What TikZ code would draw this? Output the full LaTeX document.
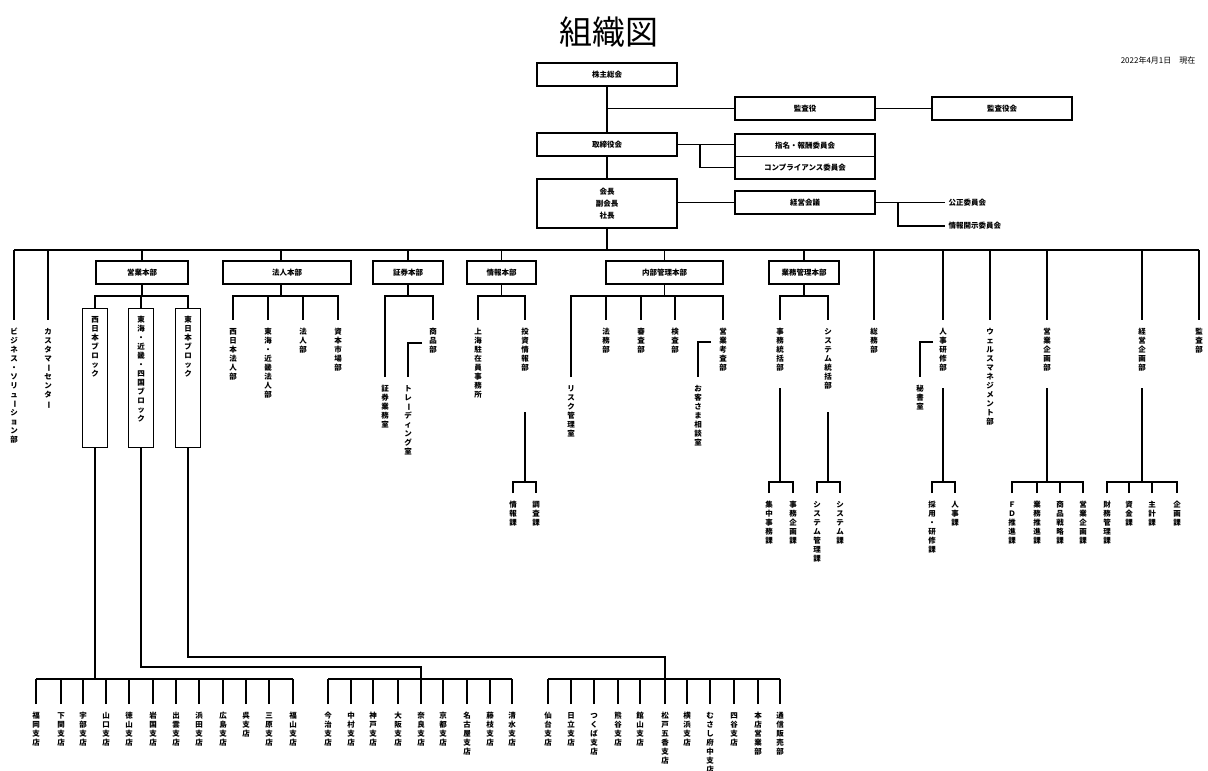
\documentclass[tikz,border=0pt]{standalone}
\usepackage{fontspec}
\setmainfont{Noto Sans CJK JP}
\newcommand\vbar{\rotatebox[origin=c]{-90}{ー}}
\newcommand\vt[1]{\vbox{\offinterlineskip\vtl#1\relax}}
\def\vtl#1{\ifx#1\relax\else\hbox to 9pt{\hss\vrule height 7.5pt depth 1.5pt width 0pt\relax #1\hss}\expandafter\vtl\fi}
\begin{document}
\begin{tikzpicture}[x=1pt,y=-1pt,line width=1.2pt,
 orgbox/.style={draw,line width=1.2pt,inner sep=0pt,minimum height=23pt,font=\fontsize{7.5pt}{9pt}\selectfont\bfseries},
 vnode/.style={anchor=north,inner xsep=0pt,inner ysep=6pt,font=\fontsize{7.5pt}{9pt}\selectfont\bfseries},
 lbl/.style={anchor=west,inner xsep=3pt,inner ysep=0pt,font=\fontsize{7.5pt}{9pt}\selectfont\bfseries}]
\useasboundingbox (0,0) rectangle (1208,771);
% title and date
\node (title) at (609,32) {\fontsize{33pt}{36pt}\selectfont 組織図};
\node[anchor=east,inner sep=0pt,font=\fontsize{8pt}{9pt}\selectfont] (date) at (1196,60) {2022年4月1日　現在};
% top governance
\node[orgbox,minimum width=140pt] (kabu) at (607,74.5) {株主総会};
\node[orgbox,minimum width=140pt] (kansa) at (805,108.5) {監査役};
\node[orgbox,minimum width=140pt] (kansakai) at (1002,108.5) {監査役会};
\node[orgbox,minimum width=140pt] (tori) at (607,144.5) {取締役会};
\node[orgbox,minimum width=140pt,minimum height=22.5pt] (shimei) at (805,145.25) {指名・報酬委員会};
\node[orgbox,minimum width=140pt,minimum height=22.5pt] (comp) at (805,167.75) {コンプライアンス委員会};
\node[orgbox,minimum width=140pt,minimum height=49pt,align=center,font=\fontsize{7.5pt}{12pt}\selectfont\bfseries] (kaicho) at (607,203.5) {会長\\副会長\\社長};
\node[orgbox,minimum width=140pt] (keiei) at (805,202.5) {経営会議};
\node[lbl] (kosei) at (945,202.5) {公正委員会};
\node[lbl] (kaiji) at (945,226) {情報開示委員会};
\draw (kabu.south) -- (tori.north);
\draw (kabu.south |- kansa.west) -- (kansa.west);
\draw (kansa) -- (kansakai);
\draw (tori.south) -- (kaicho.north);
\draw (tori.east) -- (tori.east -| shimei.west);
\coordinate (tb) at (700,144.5);
\draw (tb) |- (comp.west);
\draw (kaicho.east |- keiei.west) -- (keiei.west);
\draw (keiei.east) -- (kosei.west);
\coordinate (kb) at (898,202.5);
\draw (kb) |- (kaiji.west);
% bus
\coordinate (busL) at (14,250);
\coordinate (busR) at (1199,250);
\draw (busL) -- (busR);
\draw (kaicho.south) -- (kaicho.south |- busL);
% headquarters
\node[orgbox,minimum width=92pt] (eigyo) at (142,272.5) {営業本部};
\node[orgbox,minimum width=128pt] (hojin) at (287,272.5) {法人本部};
\node[orgbox,minimum width=70pt] (shoken) at (408,272.5) {証券本部};
\node[orgbox,minimum width=69pt] (joho) at (501.5,272.5) {情報本部};
\node[orgbox,minimum width=117pt] (naibu) at (664.5,272.5) {内部管理本部};
\node[orgbox,minimum width=70pt] (gyomu) at (804,272.5) {業務管理本部};
\foreach \n in {eigyo,shoken,joho,naibu,gyomu} \draw (\n.north |- busL) -- (\n.north);
\coordinate (hjx) at (281,296);
\draw (hjx |- busL) -- (hjx |- hojin.north);
\draw (hjx |- hojin.south) -- (hjx);
% direct departments
\node[vnode] (biz) at (14,320) {\vt{ビジネス・ソリュ\vbar ション部}};
\node[vnode] (cust) at (48,320) {\vt{カスタマ\vbar センタ\vbar}};
\node[vnode] (somu) at (874,320) {\vt{総務部}};
\node[vnode] (jinji) at (943,320) {\vt{人事研修部}};
\node[vnode] (wealth) at (990,320) {\vt{ウェルスマネジメント部}};
\node[vnode] (eikaku) at (1047,320) {\vt{営業企画部}};
\node[vnode] (keikaku) at (1142,320) {\vt{経営企画部}};
\node[vnode] (kansabu) at (1199,320) {\vt{監査部}};
\foreach \n in {biz,cust,somu,jinji,wealth,eikaku,keikaku,kansabu} \draw (\n.north |- busL) -- (\n.north);
% 営業本部
\node[orgbox,anchor=north,minimum width=25pt] (west) at (95,308) {\vbox to 139pt{\vskip6pt\vt{西日本ブロック}\vfill}};
\node[orgbox,anchor=north,minimum width=25pt] (tokai) at (141,308) {\vbox to 139pt{\vskip6pt\vt{東海・近畿・四国ブロック}\vfill}};
\node[orgbox,anchor=north,minimum width=25pt] (east) at (188,308) {\vbox to 139pt{\vskip6pt\vt{東日本ブロック}\vfill}};
\coordinate (e296) at (141,296);
\draw (eigyo.south) -- (eigyo.south |- e296);
\draw (west.north) |- (e296) -| (east.north);
\draw (tokai.north) -- (tokai.north |- e296);
% 法人本部
\node[vnode] (hj1) at (233,320) {\vt{西日本法人部}};
\node[vnode] (hj2) at (268,320) {\vt{東海・近畿法人部}};
\node[vnode] (hj3) at (303,320) {\vt{法人部}};
\node[vnode] (hj4) at (338,320) {\vt{資本市場部}};
\draw (hj1.north) |- (hjx) -| (hj4.north);
\draw (hj2.north) -- (hj2.north |- hjx);
\draw (hj3.north) -- (hj3.north |- hjx);
% 証券本部
\coordinate (sk) at (408,296);
\draw (shoken.south) -- (sk);
\node[vnode] (skjimu) at (385,377) {\vt{証券業務室}};
\node[vnode] (shohin) at (433,320) {\vt{商品部}};
\draw (skjimu.north) |- (sk) -| (shohin.north);
\node[vnode] (trading) at (408,377) {\vt{トレ\vbar ディング室}};
\coordinate (trc) at (422,343);
\draw (trc) -| (trading.north);
% 情報本部
\coordinate (jh) at (502,296);
\draw (joho.south) -- (joho.south |- jh);
\node[vnode] (shanghai) at (478,320) {\vt{上海駐在員事務所}};
\node[vnode] (toushi) at (525,320) {\vt{投資情報部}};
\draw (shanghai.north) |- (jh) -| (toushi.north);
\coordinate (tsj) at (525,412);
\coordinate (tsb) at (525,482);
\draw (tsj) -- (tsb);
\node[vnode] (johoka) at (513,493) {\vt{情報課}};
\node[vnode] (chosaka) at (536,493) {\vt{調査課}};
\draw (johoka.north) |- (tsb) -| (chosaka.north);
% 内部管理本部
\coordinate (nb) at (665,296);
\draw (naibu.south) -- (naibu.south |- nb);
\node[vnode] (risk) at (571,377) {\vt{リスク管理室}};
\node[vnode] (homu) at (606,320) {\vt{法務部}};
\node[vnode] (shinsa) at (641,320) {\vt{審査部}};
\node[vnode] (kensa) at (675,320) {\vt{検査部}};
\node[vnode] (kosa) at (723,320) {\vt{営業考査部}};
\draw (risk.north) |- (nb) -| (kosa.north);
\foreach \n in {homu,shinsa,kensa} \draw (\n.north) -- (\n.north |- nb);
\node[vnode] (sodan) at (698,377) {\vt{お客さま相談室}};
\coordinate (sdc) at (711,342);
\draw (sdc) -| (sodan.north);
% 業務管理本部
\coordinate (gb) at (805,296);
\draw (gyomu.south) -- (gyomu.south |- gb);
\node[vnode] (jimu) at (780,320) {\vt{事務統括部}};
\node[vnode] (sys) at (828,320) {\vt{システム統括部}};
\draw (jimu.north) |- (gb) -| (sys.north);
\coordinate (jmt) at (780,388);
\coordinate (jmb) at (780,482);
\draw (jmt) -- (jmb);
\node[vnode] (shuchu) at (769,493) {\vt{集中事務課}};
\node[vnode] (jimukikaku) at (793,493) {\vt{事務企画課}};
\draw (shuchu.north) |- (jmb) -| (jimukikaku.north);
\coordinate (syt) at (828,412);
\coordinate (syb) at (828,482);
\draw (syt) -- (syb);
\node[vnode] (syskanri) at (817,493) {\vt{システム管理課}};
\node[vnode] (sysk) at (840,493) {\vt{システム課}};
\draw (syskanri.north) |- (syb) -| (sysk.north);
% 人事研修部
\node[vnode] (hisho) at (920,377) {\vt{秘書室}};
\coordinate (hsc) at (933,342);
\draw (hsc) -| (hisho.north);
\coordinate (jnt) at (943,388);
\coordinate (jnb) at (943,482);
\draw (jnt) -- (jnb);
\node[vnode] (saiyo) at (932,493) {\vt{採用・研修課}};
\node[vnode] (jinjika) at (955,493) {\vt{人事課}};
\draw (saiyo.north) |- (jnb) -| (jinjika.north);
% 営業企画部
\coordinate (ekt) at (1047,388);
\coordinate (ekb) at (1047,482);
\draw (ekt) -- (ekb);
\node[vnode] (fd) at (1012,493) {\vt{ＦＤ推進課}};
\node[vnode] (gsuishin) at (1037,493) {\vt{業務推進課}};
\node[vnode] (senryaku) at (1060,493) {\vt{商品戦略課}};
\node[vnode] (ekikakuka) at (1083,493) {\vt{営業企画課}};
\draw (fd.north) |- (ekb) -| (ekikakuka.north);
\foreach \n in {gsuishin,senryaku} \draw (\n.north) -- (\n.north |- ekb);
% 経営企画部
\coordinate (kkt) at (1142,388);
\coordinate (kkb) at (1142,482);
\draw (kkt) -- (kkb);
\node[vnode] (zaimu) at (1107,493) {\vt{財務管理課}};
\node[vnode] (shikin) at (1129,493) {\vt{資金課}};
\node[vnode] (shukei) at (1152,493) {\vt{主計課}};
\node[vnode] (kikakuka) at (1177,493) {\vt{企画課}};
\draw (zaimu.north) |- (kkb) -| (kikakuka.north);
\foreach \n in {shikin,shukei} \draw (\n.north) -- (\n.north |- kkb);
% branches
\coordinate (wb) at (95,679);
\draw (west.south) -- (wb);
\coordinate (tk1) at (141,667);
\coordinate (tkb) at (421,679);
\draw (tokai.south) -- (tokai.south |- tk1) -| (tkb);
\coordinate (ek1) at (188,657);
\coordinate (eab) at (665,679);
\draw (east.south) -- (east.south |- ek1) -| (eab);
\foreach \x/\t [count=\i] in {36/福岡支店,61/下関支店,83/宇部支店,106/山口支店,129/徳山支店,153/岩国支店,176/出雲支店,199/浜田支店,223/広島支店,246/呉支店,269/三原支店,293/福山支店}{
  \node[vnode] (w\i) at (\x,704) {\expandafter\vt\expandafter{\t}};
  \draw (w\i.north) -- (w\i.north |- wb);
}
\draw (w1.north |- wb) -- (w12.north |- wb);
\foreach \x/\t [count=\i] in {328/今治支店,351/中村支店,373/神戸支店,398/大阪支店,421/奈良支店,443/京都支店,467/名古屋支店,490/藤枝支店,512/清水支店}{
  \node[vnode] (m\i) at (\x,704) {\expandafter\vt\expandafter{\t}};
  \draw (m\i.north) -- (m\i.north |- tkb);
}
\draw (m1.north |- tkb) -- (m9.north |- tkb);
\foreach \x/\t [count=\i] in {548/仙台支店,571/日立支店,594/つくば支店,618/熊谷支店,640/館山支店,665/松戸五香支店,687/横浜支店,710/むさし府中支店,734/四谷支店,758/本店営業部,780/通信販売部}{
  \node[vnode] (e\i) at (\x,704) {\expandafter\vt\expandafter{\t}};
  \draw (e\i.north) -- (e\i.north |- eab);
}
\draw (e1.north |- eab) -- (e11.north |- eab);
\end{tikzpicture}
\end{document}
